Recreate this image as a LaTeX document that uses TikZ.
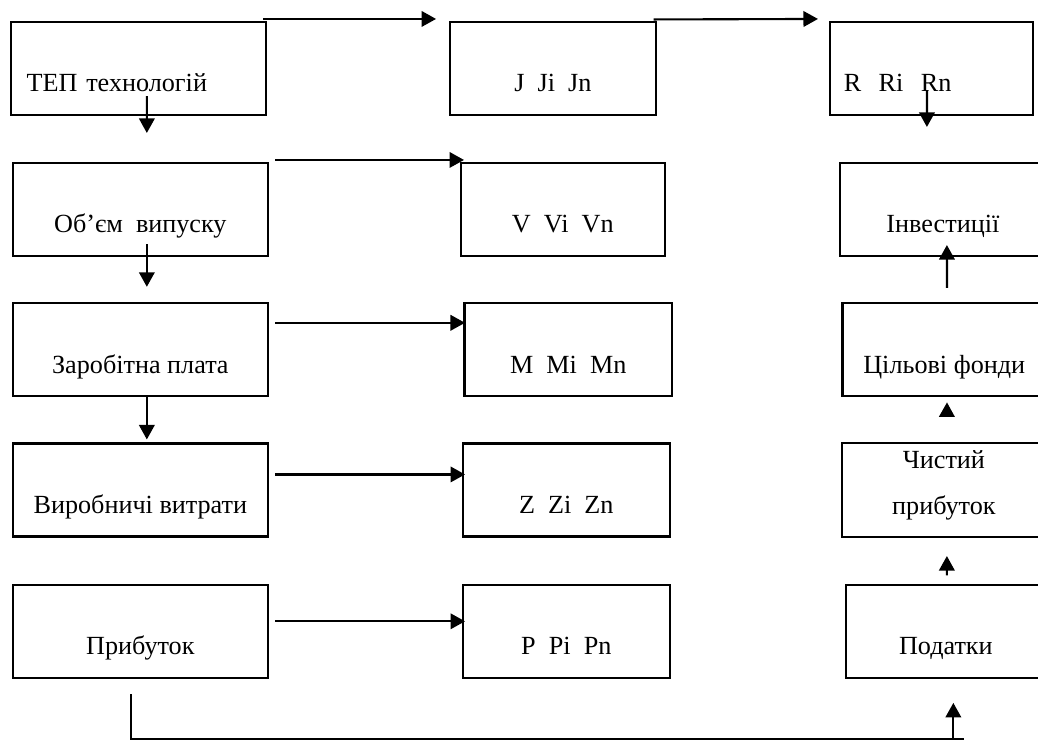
\documentclass[tikz,border=0pt]{standalone}
\usepackage{fontspec}
\setmainfont{Liberation Serif}
\usepackage{tikz}
\usetikzlibrary{arrows.meta}

\begin{document}
\begin{tikzpicture}[
  x=0.02cm,y=-0.02cm,
  line width=1.2pt,
  font=\fontsize{14.9pt}{26.2pt}\selectfont,
  blk/.style={draw,rectangle,inner sep=0pt,text height=1.4cm,text depth=0.46cm},
  >={Triangle[length=0.29cm,width=0.31cm]}
]
  \useasboundingbox (0,0) rectangle (1038,740);

  % Left column: source indicators.
  \node[blk,minimum width=5.11cm,text width=4.47cm,align=left] (tep) at (138.4,68.5) {ТЕП технологій};
  \node[blk,minimum width=5.11cm] (ob)   at (140.35,209.5) {Об’єм~~випуску};
  \node[blk,minimum width=5.11cm] (zar)  at (140.35,349.85) {Заробітна плата};
  \node[blk,minimum width=5.11cm] (vyr)  at (140.35,490) {Виробничі витрати};
  \node[blk,minimum width=5.11cm] (prib) at (140.35,631.35) {Прибуток};

  % Middle column: index values.
  \node[blk,minimum width=4.11cm] (j) at (552.85,68.5) {J~~Ji~~Jn};
  \node[blk,minimum width=4.09cm] (v) at (562.8,209.5) {V~~Vi~~Vn};
  \node[blk,minimum width=4.15cm] (m) at (568.25,349.85) {M~~Mi~~Mn};
  \node[blk,minimum width=4.15cm] (z) at (566.3,490) {Z~~Zi~~Zn};
  \node[blk,minimum width=4.15cm] (p) at (566.3,631.35) {P~~Pi~~Pn};

  % Right column: distribution of profit.
  \node[blk,minimum width=4.06cm,text width=3.51cm,align=left] (r) at (931.5,68.5) {R~~Ri~~Rn};
  \node[blk,minimum width=4.12cm] (inv) at (942.9,209.5) {Інвестиції};
  \node[blk,minimum width=4.07cm] (cil) at (944.25,349.85) {Цільові фонди};
  \node[blk,minimum width=4.08cm,align=center,text height=1.44cm,text depth=0.44cm] (chy) at (943.9,490) {Чистий\\прибуток};
  \node[blk,minimum width=4.01cm] (pod) at (945.85,631.35) {Податки};

  % Horizontal arrows from row to row.
  \draw[->] ([shift={(-0.08cm,0.04cm)}]tep.north east) -- ([shift={(-0.26cm,0.04cm)}]j.north west);
  \draw[->] ([shift={(-0.06cm,0.03cm)}]j.north east) -- ([shift={(-0.22cm,0.04cm)}]r.north west);
  \draw[->] ([shift={(0.12cm,0.04cm)}]ob.north east) -- ([shift={(0.09cm,0.04cm)}]v.north west);
  \draw[->] ([shift={(0.12cm,-0.41cm)}]zar.north east) -- ([shift={(0.03cm,-0.41cm)}]m.north west);
  \draw[->] ([shift={(0.12cm,-0.64cm)}]vyr.north east) -- ([shift={(0.07cm,-0.64cm)}]z.north west);
  \draw[->] ([shift={(0.12cm,-0.75cm)}]prib.north east) -- ([shift={(0.07cm,-0.75cm)}]p.north west);

  % Left column, downwards.
  \draw[->] ([shift={(0.17cm,0.4cm)}]tep.south) -- ([shift={(0.13cm,0.58cm)}]ob.north);
  \draw[->] ([shift={(0.13cm,0.26cm)}]ob.south) -- ([shift={(0.13cm,0.31cm)}]zar.north);
  \draw[->] ([shift={(0.13cm,0.04cm)}]zar.south) -- ([shift={(0.13cm,0.06cm)}]vyr.north);

  % Right column, upwards.
  \draw[->] ([shift={(-0.09cm,0.52cm)}]r.south) -- ([shift={(-0.32cm,0.7cm)}]inv.north);
  \draw[->] ([shift={(0.055cm,0.29cm)}]cil.north) -- ([shift={(0.08cm,0.24cm)}]inv.south);
  \draw[->] ([shift={(0.06cm,0.5cm)}]chy.north) -- ([shift={(0.055cm,-0.1cm)}]cil.south);
  \draw[->] ([shift={(0.02cm,0.17cm)}]pod.north) -- ([shift={(0.06cm,-0.36cm)}]chy.south);

  % Return line under the picture.
  \draw[line width=0.9pt] ([shift={(-0.19cm,-0.31cm)}]prib.south) |- ([shift={(0.36cm,-1.2cm)}]pod.south);
  \draw[->] ([shift={(0.15cm,-1.25cm)}]pod.south) -- ([shift={(0.15cm,-0.48cm)}]pod.south);
\end{tikzpicture}
\end{document}
